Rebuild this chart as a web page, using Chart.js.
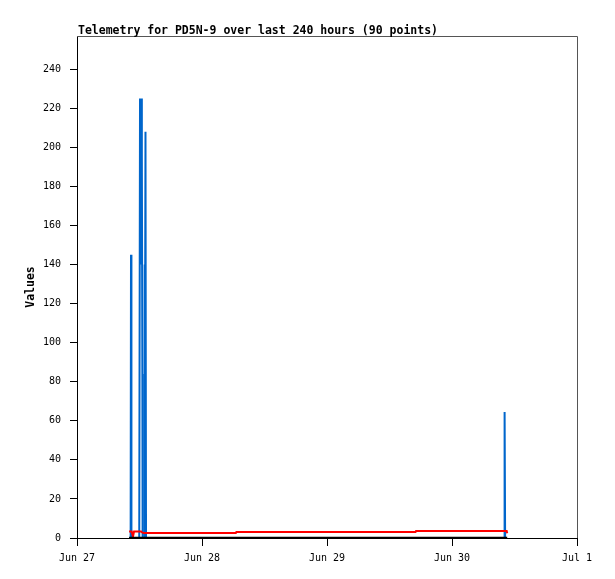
<!DOCTYPE html>
<html>
<head>
<meta charset="utf-8">
<script src="https://cdn.jsdelivr.net/npm/chart.js@4.4.1/dist/chart.umd.min.js"></script>
<style>
  html, body { margin: 0; padding: 0; background: #fff; }
  #wrap { width: 615px; height: 579px; }
</style>
</head>
<body>
<div id="wrap"><canvas id="telemetry-chart" width="615" height="579"></canvas></div>
<script>
// hours since Jun 27 00:00
const dayLabels = ["Jun 27", "Jun 28", "Jun 29", "Jun 30", "Jul 1"];
const yTicks = [0, 20, 40, 60, 80, 100, 120, 140, 160, 180, 200, 220, 240];

const blueHours = [10.0, 10.3, 10.37, 10.45, 11.95, 12.1, 12.25, 12.35, 12.45, 12.55, 12.6, 12.9, 12.95, 13.05, 13.15, 13.25, 82.0, 82.1, 82.2, 82.5];
const blueValues = [0, 0, 145, 0, 0, 225, 140, 225, 197, 84, 0, 0, 140, 28, 208, 0, 0, 64.5, 0, 0];

const redHours = [10.0, 10.5, 10.75, 10.95, 12.3, 12.5, 12.8, 30.5, 30.6, 65.0, 65.1, 82.5, 82.6];
const redValues = [3.3, 3.3, 0.7, 3.3, 3.3, 2.9, 2.6, 2.6, 3.1, 3.1, 3.6, 3.6, 2.4];

const blackHours = [10.0, 82.6];
const blackValues = [0, 0];

const titleText = "Telemetry for PD5N-9 over last 240 hours (90 points)";
const mono = '"DejaVu Sans Mono", "Liberation Mono", monospace';

const toPoints = (hours, values) => hours.map((h, i) => ({ x: h, y: values[i] }));

const extrasPlugin = {
    id: 'extras',
    afterDraw(chart) {
        const { ctx, chartArea } = chart;
        ctx.save();
        // top and right frame
        ctx.strokeStyle = '#555';
        ctx.lineWidth = 1;
        ctx.beginPath();
        ctx.moveTo(chartArea.left, chartArea.top + 0.5);
        ctx.lineTo(chartArea.right + 0.5, chartArea.top + 0.5);
        ctx.lineTo(chartArea.right + 0.5, chartArea.bottom);
        ctx.stroke();
        // title
        ctx.fillStyle = '#000';
        ctx.font = 'bold 11.5px ' + mono;
        ctx.textAlign = 'left';
        ctx.textBaseline = 'alphabetic';
        ctx.fillText(titleText, chartArea.left + 1, 34);
        // y axis title
        ctx.translate(31, (chartArea.top + chartArea.bottom) / 2);
        ctx.rotate(-Math.PI / 2);
        ctx.textAlign = 'center';
        ctx.textBaseline = 'middle';
        ctx.fillText('Values', 0, 0);
        ctx.restore();
    }
};

const ctx = document.getElementById('telemetry-chart').getContext('2d');

const chart = new Chart(ctx, {
    type: 'line',
    data: {
        datasets: [{
            label: 'zero',
            data: toPoints(blackHours, blackValues),
            borderColor: '#000000',
            borderWidth: 2.5
        }, {
            label: 'red',
            data: toPoints(redHours, redValues),
            borderColor: '#ff0000',
            borderWidth: 2
        }, {
            label: 'blue',
            data: toPoints(blueHours, blueValues),
            borderColor: '#0066cc',
            borderWidth: 2
        }]
    },
    options: {
        responsive: false,
        animation: false,
        events: [],
        elements: {
            point: { radius: 0 },
            line: { tension: 0, borderCapStyle: 'butt' }
        },
        layout: {
            padding: { top: 36, right: 38, left: 0, bottom: 0 }
        },
        scales: {
            x: {
                type: 'linear',
                min: 0,
                max: 96,
                afterBuildTicks: (scale) => {
                    scale.ticks = dayLabels.map((_, i) => ({ value: i * 24 }));
                },
                afterFit: (scale) => { scale.height = 41; },
                ticks: {
                    color: '#000',
                    font: { family: mono, size: 10 },
                    padding: 6,
                    maxRotation: 0,
                    autoSkip: false,
                    callback: (value) => dayLabels[value / 24]
                },
                grid: {
                    drawOnChartArea: false,
                    drawTicks: true,
                    tickLength: 8,
                    color: '#000'
                },
                border: { display: true, color: '#000' }
            },
            y: {
                type: 'linear',
                min: 0,
                max: 257,
                afterBuildTicks: (scale) => {
                    scale.ticks = yTicks.map(v => ({ value: v }));
                },
                afterFit: (scale) => { scale.width = 77; },
                ticks: {
                    color: '#000',
                    font: { family: mono, size: 10 },
                    padding: 9
                },
                grid: {
                    drawOnChartArea: false,
                    drawTicks: true,
                    tickLength: 7,
                    color: '#000'
                },
                border: { display: true, color: '#000' }
            }
        },
        plugins: {
            legend: { display: false },
            title: { display: false },
            tooltip: { enabled: false }
        }
    },
    plugins: [extrasPlugin]
});
</script>
</body>
</html>
